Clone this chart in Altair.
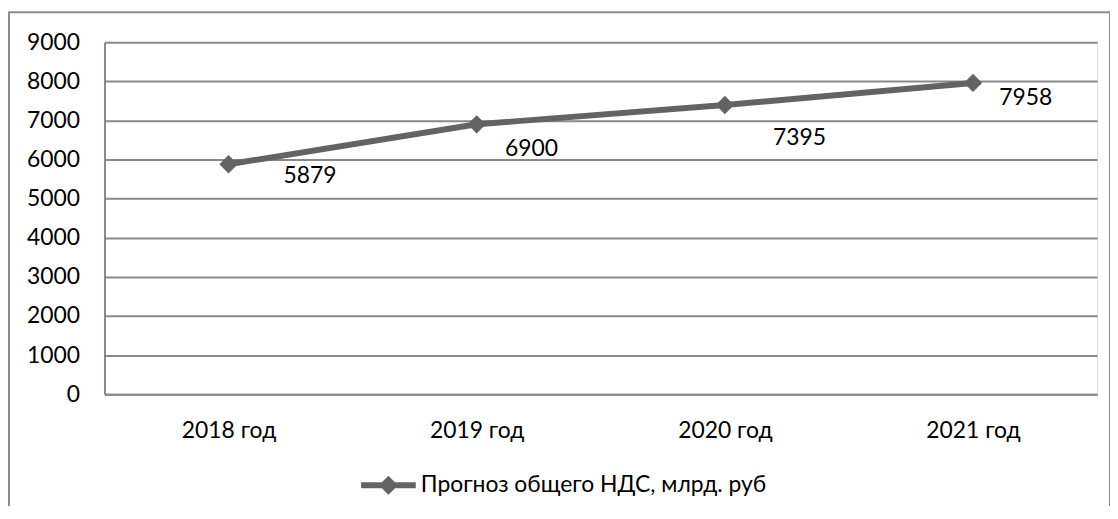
import altair as alt
import pandas as pd

# ---- data ----
years = ["2018 год", "2019 год", "2020 год", "2021 год"]
values = [5879, 6900, 7395, 7958]
series_name = "Прогноз общего НДС, млрд. руб"
y_ticks = [0, 1000, 2000, 3000, 4000, 5000, 6000, 7000, 8000, 9000]

df = pd.DataFrame({"year": years, "value": values, "series": [series_name] * len(years)})

# ---- layout / style ----
FONT = "Lato"
LINE_COLOR = "#636363"
GRID_COLOR = "#898989"
label_offsets = [(82, 12), (55, 25), (75, 33), (53, 15)]  # dx, dy per data label

x_enc = alt.X(
    "year:N",
    sort=years,
    scale=alt.Scale(paddingInner=0, paddingOuter=0),
    axis=alt.Axis(
        title=None, labelAngle=0, ticks=False, tickSize=0, labelPadding=25,
        labelFont=FONT, labelFontSize=23, labelColor="#000000",
        domainColor=GRID_COLOR, domainWidth=2, grid=False,
    ),
)
y_enc = alt.Y(
    "value:Q",
    scale=alt.Scale(domain=[0, 9000], nice=False),
    axis=alt.Axis(
        title=None, values=y_ticks, format="d", ticks=False, tickSize=0, labelPadding=25,
        labelFont=FONT, labelFontSize=23, labelColor="#000000",
        domainColor=GRID_COLOR, domainWidth=2,
        grid=True, gridColor=GRID_COLOR, gridWidth=2,
    ),
)

base = alt.Chart(df)

line = base.mark_line(color=LINE_COLOR, strokeWidth=6).encode(x=x_enc, y=y_enc)

legend_symbol = "M-1,-0.11 L1,-0.11 L1,0.11 L-1,0.11 Z M-0.35,0 L0,-0.35 L0.35,0 L0,0.35 Z"

points = base.mark_point(shape="diamond", filled=True, size=340, opacity=1).encode(
    x=x_enc,
    y=y_enc,
    color=alt.Color(
        "series:N",
        scale=alt.Scale(range=[LINE_COLOR]),
        legend=alt.Legend(
            title=None, orient="none", legendX=258, legendY=418,
            symbolType=legend_symbol, symbolSize=3025,
            symbolFillColor=LINE_COLOR, symbolStrokeWidth=0,
            labelFont=FONT, labelFontSize=23, labelColor="#000000",
            labelOffset=5, labelLimit=600,
        ),
    ),
)

text_layers = []
for yr, (dx, dy) in zip(years, label_offsets):
    text_layers.append(
        base.transform_filter(alt.datum.year == yr)
        .mark_text(font=FONT, fontSize=23, color="#000000", align="center",
                   baseline="middle", dx=dx, dy=dy)
        .encode(x=x_enc, y=y_enc, text=alt.Text("value:Q", format="d"))
    )

frame = alt.Chart(pd.DataFrame({"a": [0]})).mark_rect(
    fill="transparent", stroke="#8c8c8c", strokeWidth=2, clip=False
).encode(
    x=alt.value(-96), x2=alt.value(1011), y=alt.value(-30), y2=alt.value(700)
)

chart = alt.layer(frame, line, points, *text_layers).properties(
    width=998,
    height=354,
    autosize=alt.AutoSizeParams(type="none"),
    padding={"left": 97, "top": 33, "right": 13, "bottom": 111},
).configure_view(stroke=None).configure(background="#ffffff")

chart.save("out.html", embed_options={"renderer": "svg", "actions": False})
